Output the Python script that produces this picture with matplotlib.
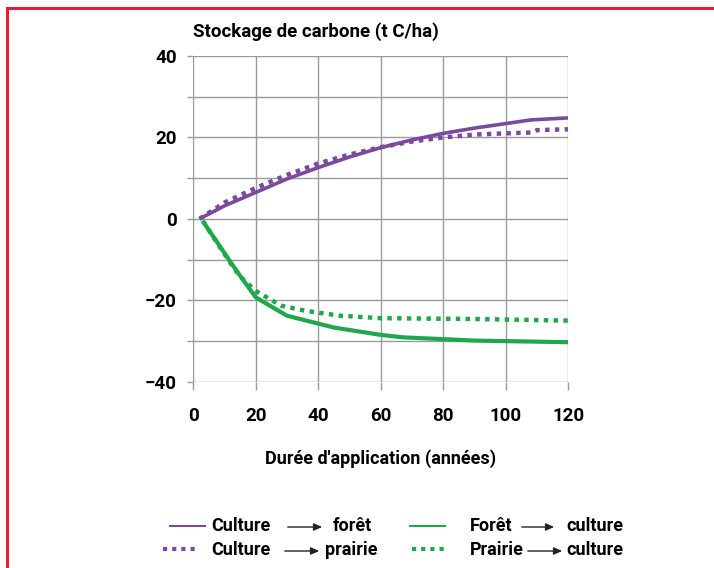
import matplotlib
matplotlib.use("Agg")
from matplotlib import pyplot as plt
from matplotlib.lines import Line2D
from matplotlib.patches import Rectangle, FancyArrowPatch

plt.rcParams["font.family"] = ["Roboto", "DejaVu Sans"]
plt.rcParams["font.weight"] = "bold"
plt.rcParams["axes.unicode_minus"] = True

purple = "#7a4a9e"
green = "#1ea84b"
grid_col = "#9a9a9a"

# Culture -> foret (solid purple)
cf_years = [2, 10, 20, 30, 40, 50, 60, 70, 80, 90, 100, 108, 120]
cf_stock = [0, 3.2, 6.5, 9.8, 12.6, 15.2, 17.5, 19.4, 21.0, 22.3, 23.4, 24.3, 24.8]

# Culture -> prairie (dotted purple)
cp_years = [2, 10, 20, 30, 40, 50, 60, 70, 80, 90, 100, 108, 110, 120]
cp_stock = [0, 4.0, 7.6, 10.8, 13.6, 15.8, 17.6, 19.0, 20.0, 20.7, 21.0, 21.2, 21.8, 22.0]

# Foret -> culture (solid green)
fc_years = [3, 12, 15, 20, 30, 45, 60, 67, 90, 120]
fc_stock = [-0.5, -10.7, -14.0, -19.3, -23.8, -26.7, -28.5, -29.1, -29.9, -30.3]

# Prairie -> culture (dotted green)
pc_years = [3, 12, 15, 20, 28, 36, 47, 60, 90, 120]
pc_stock = [-0.5, -11.0, -14.2, -17.7, -21.3, -22.6, -23.8, -24.4, -24.6, -25.0]

xticks = [0, 20, 40, 60, 80, 100, 120]
yticks = [-40, -20, 0, 20, 40]

fig = plt.figure(figsize=(7.14, 5.68), dpi=100)
ax = fig.add_axes([0.2707, 0.328, 0.5253, 0.5734])

dots = (0, (1, 1.2))
ax.plot(cf_years, cf_stock, color=purple, lw=2.6, solid_capstyle="butt", zorder=3)
ax.plot(cp_years, cp_stock, color=purple, lw=3.2, linestyle=dots, dash_capstyle="butt", zorder=3)
ax.plot(fc_years, fc_stock, color=green, lw=3.0, solid_capstyle="butt", zorder=3)
ax.plot(pc_years, pc_stock, color=green, lw=3.2, linestyle=dots, dash_capstyle="butt", zorder=3)

ax.set_xlim(0, 120)
ax.set_ylim(-40, 40)
ax.set_xticks(xticks)
ax.set_yticks(yticks)
ax.set_yticks(range(-40, 41, 10), minor=True)
ax.grid(True, which="both", color=grid_col, lw=1.0)
for s in ax.spines.values():
    s.set_visible(False)
ax.tick_params(axis="x", length=6, color=grid_col, width=1.0, pad=12, labelsize=13.5)
ax.tick_params(axis="y", which="both", length=4, color=grid_col, width=1.0, pad=8, labelsize=13.5)
ax.tick_params(axis="y", which="minor", labelleft=False)
for lab in ax.get_xticklabels() + ax.get_yticklabels():
    lab.set_fontweight("bold")

ax.set_xlabel("Durée d'application (années)", fontsize=13, fontweight="bold", labelpad=18)
fig.text(0.271, 0.945, "Stockage de carbone (t C/ha)", fontsize=13.5, fontweight="bold",
         ha="left", va="center")

# manual legend
def key(x0, x1, y, color, ls, lw):
    fig.add_artist(Line2D([x0 / 714, x1 / 714], [1 - y / 568, 1 - y / 568],
                          color=color, lw=lw, linestyle=ls, transform=fig.transFigure))

def word(x, y, s):
    fig.text(x / 714, 1 - y / 568, s, fontsize=13, fontweight="bold", ha="left", va="center")

def arrow(x0, x1, y):
    fig.add_artist(FancyArrowPatch(
        (x0 / 714, 1 - y / 568), (x1 / 714, 1 - y / 568), transform=fig.transFigure,
        arrowstyle="-|>,head_length=5,head_width=2.2", mutation_scale=1, color="#222222", lw=1.0))

key(170, 205, 526, purple, "-", 1.5)
key(163, 198, 549, purple, dots, 3.0)
key(410, 445, 526, green, "-", 1.5)
key(412, 446, 549, green, dots, 3.0)

word(211, 526, "Culture"); arrow(285, 325, 527); word(333, 526, "forêt")
word(211, 550, "Culture"); arrow(282, 322, 551); word(325, 550, "prairie")
word(470, 526, "Forêt"); arrow(519, 557, 527); word(566, 526, "culture")
word(470, 550, "Prairie"); arrow(525, 565, 551); word(566, 550, "culture")

# red frame
fig.add_artist(Rectangle((7 / 714, -0.05), 1.1, 1 - 8 / 568 + 0.05, transform=fig.transFigure,
                         fill=False, edgecolor="#e3202f", lw=2.2))

fig.savefig("out.png", dpi=100)
